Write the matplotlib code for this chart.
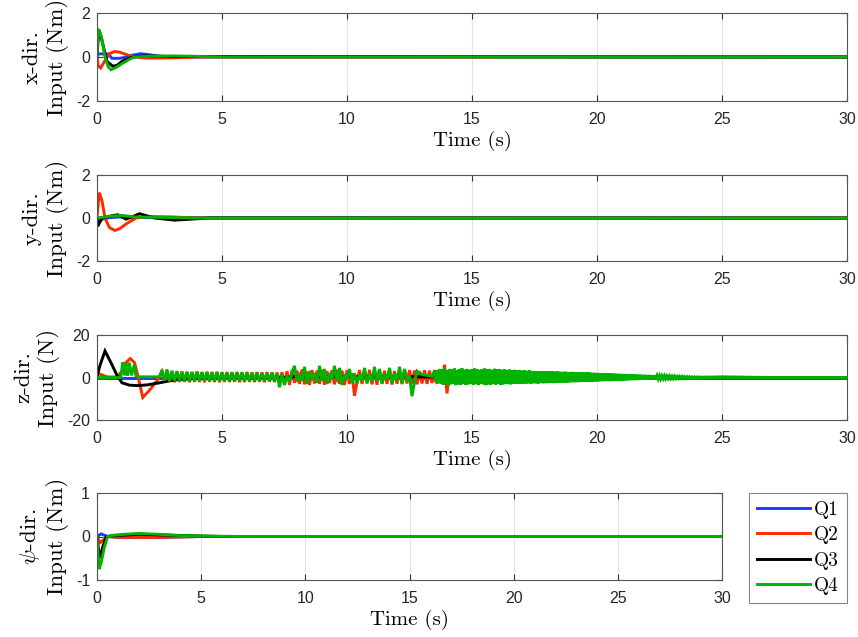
import numpy as np
import matplotlib
matplotlib.use("Agg")
import matplotlib.pyplot as plt
from matplotlib.lines import Line2D

plt.rcParams['mathtext.fontset'] = 'cm'
plt.rcParams['axes.unicode_minus'] = False

# ---------------- data ----------------
series_names = ["Q1", "Q2", "Q3", "Q4"]
series_colors = ["#1a3cff", "#ff2a00", "#000000", "#00b300"]

x_ticks = [0, 5, 10, 15, 20, 25, 30]
x_tick_labels = ["0", "5", "10", "15", "20", "25", "30"]

# x-direction input (Nm)
x_q1_t = [0, 0.45, 0.6, 0.9, 1.1, 1.4, 1.75, 2.1, 2.6, 3.5, 30]
x_q1_v = [0.14, 0.14, -0.06, -0.06, -0.02, 0.08, 0.15, 0.1, 0.02, 0, 0]
x_q2_t = [0, 0.05, 0.15, 0.3, 0.5, 0.7, 0.9, 1.2, 1.5, 2.0, 3.0, 4.0, 30]
x_q2_v = [0, -0.4, -0.5, -0.2, 0.15, 0.25, 0.22, 0.1, 0.0, -0.05, -0.04, 0, 0]
x_q3_t = [0, 0.05, 0.12, 0.25, 0.4, 0.63, 0.8, 1.0, 1.3, 1.6, 2.0, 3.0, 30]
x_q3_v = [0, 0.9, 1.1, 0.5, -0.2, -0.42, -0.38, -0.2, -0.05, 0.03, 0.05, 0.02, 0]
x_q4_t = [0, 0.05, 0.1, 0.2, 0.32, 0.45, 0.56, 0.8, 1.0, 1.3, 1.5, 2.0, 3.0, 4.0, 5.0, 30]
x_q4_v = [0, 1.24, 1.2, 0.8, 0.0, -0.45, -0.58, -0.45, -0.3, -0.1, 0.0, 0.03, 0.05, 0.03, 0, 0]

# y-direction input (Nm)
y_q1_t = [0, 0.05, 0.2, 0.5, 1.0, 2.0, 30]
y_q1_v = [0, -0.25, -0.05, 0.02, 0.05, 0.02, 0]
y_q2_t = [0, 0.09, 0.2, 0.32, 0.5, 0.72, 0.9, 1.2, 1.56, 2.0, 3.0, 4.0, 30]
y_q2_v = [0, 1.18, 0.8, 0.0, -0.45, -0.58, -0.5, -0.25, 0.0, 0.07, 0.05, 0, 0]
y_q3_t = [0, 0.03, 0.2, 0.5, 0.83, 1.16, 1.4, 1.7, 2.3, 3.1, 4.5, 30]
y_q3_v = [0, -0.38, 0.0, 0.08, 0.15, -0.05, 0.05, 0.2, 0.0, -0.1, 0, 0]
y_q4_t = [0, 0.5, 1.0, 1.5, 2.5, 4.0, 30]
y_q4_v = [0, 0.08, 0.12, 0.05, 0.03, 0, 0]

# z-direction input (N)
z_q1_t = [0, 30]
z_q1_v = [0, 0]
z_q3_t = [0, 0.1, 0.32, 0.6, 0.8, 1.0, 1.3, 1.6, 2.0, 2.5, 2.8, 3.2, 4, 5, 7.5, 8, 9, 10, 11, 12, 13, 14, 15, 20, 24, 25, 27, 30]
z_q3_v = [0, 5, 12.5, 6, 1, -2.5, -3.6, -3.8, -3.5, -2.5, -1.8, -1, -0.4, 0, 0, 0.5, 0.3, 0.5, 0.4, 0.5, 0.3, 0.2, 0, 0, 0, 0.2, 0, 0]

z_q2_early_t = [0, 0.2, 0.4, 0.8, 1.0, 1.15, 1.33, 1.5, 1.65, 1.83, 2.1, 2.4]
z_q2_early_v = [2, 1.2, 0.3, 0.2, 3, 7, 8.9, 7, 0, -9.4, -6, -1.5]
# samples every 0.1 s from 2.5 s
z_q2_osc_v = [
    0.5, 2.8, -2.2, 2.9, -2.0, 2.7, -2.2, 2.8, -2.1, 2.6,
    -2.0, 2.7, -2.2, 2.6, -2.0, 2.8, -2.1, 2.6, -2.2, 2.7,
    -2.0, 2.6, -2.1, 2.7, -2.2, 2.5, -2.0, 2.6, -2.1, 2.5,
    -2.0, 2.6, -2.2, 2.5, -2.1, 2.6, -2.0, 2.4, -2.1, 2.5,
    -2.0, 2.4, -2.2, 2.5, -2.0, 2.4, -2.1, 2.3, -2.0, 2.5,
    -3.0, 3.0, -3.5, 3.5, -2.5, 3.2, -3.0, 3.8, -3.2, 2.8,
    -3.5, 3.5, -2.8, 3.2, -3.0, 3.6, -3.4, 3.0, -2.6, 3.4,
    -3.2, 3.6, -3.0, 3.2, -3.5, 3.4, -3.0, 2.0, -8.6, -2.0,
    3.5, -3.0, 3.2, -2.8, 3.6, -3.2, 3.0, -3.4, 3.5, -2.8,
    3.2, -3.0, 3.6, -3.3, 3.0, -2.9, 3.4, -3.1, 3.2, -2.8,
    3.5, -3.0, 3.3, -3.2, 3.0, -2.8, 3.4, -3.0, 3.2, -2.6,
    3.5, -3.0, 3.2, -2.8, 6.0, -7.5, 3.0, -2.8, 3.2, -2.6,
    3.0, -2.8, 3.1, -2.7, 3.0, -2.6, 2.5, -2.4, 2.4, -2.3,
    2.2, -2.5, 2.3, -2.2, 2.0, -2.4, 2.2, -2.0, 2.0, -2.2,
    1.8, -1.8, 1.5, -1.5, 1.0, -0.8, 0.5, 0.0,
]

z_q4_early_t = [0, 0.95, 1.03, 1.1, 1.16, 1.22, 1.29, 1.38, 1.49, 1.56, 1.62, 2.4]
z_q4_early_v = [0, 0, 7.2, 1.0, 6.8, 0.8, 7.0, 1.0, 6.0, 0.5, 0.3, 0.3]
# samples every 0.1 s from 2.5 s to 13.4 s
z_q4_osc_v = [
    0.5, 3.5, -1.5, 3.8, -1.8, 3.2, -1.6, 3.0, -1.8, 2.8,
    -1.5, 2.6, -1.7, 2.5, -1.6, 2.6, -1.5, 2.4, -1.7, 2.5,
    -1.6, 2.3, -1.5, 2.4, -1.6, 2.3, -1.5, 2.2, -1.6, 2.4,
    -1.5, 2.2, -1.4, 2.3, -1.5, 2.2, -1.6, 2.1, -1.4, 2.2,
    -1.5, 2.0, -1.4, 2.1, -1.5, 2.2, -1.4, 2.0, -4.6, 1.5,
    -3.5, 1.0, -2.0, 2.0, 5.5, -2.0, 1.0, -1.5, 5.0, -3.0,
    3.0, -1.0, 2.0, -2.5, 5.5, -1.5, 4.0, -3.0, 2.0, -1.0,
    5.5, -2.0, 4.5, -3.5, 1.5, -1.0, 4.0, -2.5, 2.0, -3.0,
    1.5, -1.5, 4.5, -2.5, 1.0, -1.5, 5.0, -2.0, 4.0, -3.0,
    1.5, -1.0, 4.5, -2.5, 2.0, -2.0, 5.0, -2.5, 4.0, -1.0,
    1.0, -8.8, -2.0, 3.0, 2.0, 1.5, 1.2, 1.0, 0.8, 0.5,
]
# samples every 0.05 s from 13.5 s to 25 s
z_q4_late_v = [
    3.0, -2.0, 3.5, -2.5, 4.0, -2.8, 3.8, -3.5, 4.2, -3.0,
    3.6, -3.8, 4.0, -3.2, 3.8, -3.0, 4.2, -3.6, 3.5, -3.2,
    4.0, -3.5, 4.3, -3.0, 3.6, -3.4, 4.0, -3.2, 3.6, -3.0,
    3.8, -3.4, 4.2, -3.0, 4.0, -3.6, 3.5, -3.0, 3.9, -3.2,
    4.2, -3.6, 3.8, -3.2, 4.0, -3.4, 3.6, -3.0, 4.1, -3.3,
    3.8, -3.0, 4.0, -3.5, 3.6, -3.2, 3.8, -3.0, 3.5, -3.1,
    3.7, -3.2, 3.4, -2.9, 3.6, -3.0, 3.3, -2.8, 3.5, -3.0,
    3.2, -2.8, 3.4, -2.9, 3.1, -2.7, 3.3, -2.8, 3.0, -2.7,
    3.0, -2.7, 2.9, -2.8, 3.0, -2.6, 2.9, -2.7, 2.8, -2.6,
    2.9, -2.6, 2.8, -2.5, 2.9, -2.6, 2.7, -2.5, 2.8, -2.4,
    2.7, -2.4, 2.6, -2.4, 2.7, -2.3, 2.6, -2.3, 2.5, -2.2,
    2.6, -2.2, 2.5, -2.2, 2.4, -2.1, 2.5, -2.1, 2.4, -2.0,
    2.3, -2.0, 2.4, -2.0, 2.3, -1.9, 2.2, -1.9, 2.2, -1.8,
    2.1, -1.8, 2.1, -1.7, 2.0, -1.7, 2.0, -1.6, 1.9, -1.6,
    1.9, -1.6, 1.8, -1.5, 1.8, -1.5, 1.7, -1.4, 1.7, -1.4,
    1.6, -1.4, 1.6, -1.3, 1.5, -1.3, 1.5, -1.2, 1.4, -1.2,
    1.4, -1.1, 1.3, -1.1, 1.3, -1.0, 1.2, -1.0, 1.2, -0.9,
    1.1, -0.9, 1.1, -0.8, 1.0, -0.8, 1.0, -0.7, 0.9, -0.7,
    0.9, -0.7, 0.8, -0.6, 0.8, -0.6, 0.7, -0.5, 0.7, -0.5,
    0.6, -0.5, 0.6, -0.4, 0.5, -0.4, 0.5, -0.3, 0.5, -0.3,
    0.4, -0.3, 0.4, -0.3, 0.35, -0.25, 0.3, -0.2, 0.3, -0.2,
    0.25, -0.2, 0.25, -0.15, 0.2, -0.15, 0.2, -0.1, 0.15, -0.1,
    0.15, -0.1, 0.1, -0.05, 0.1, -0.05, 0.05, 0.0, 0.05, 0.0,
]

# psi-direction input (Nm)
p_q1_t = [0, 0.2, 0.5, 1.0, 3.0, 5.0, 30]
p_q1_v = [0, 0.06, 0.0, -0.02, -0.02, 0, 0]
p_q2_t = [0, 0.15, 0.5, 1.0, 3.0, 5.0, 30]
p_q2_v = [0, -0.14, 0.0, -0.02, -0.02, 0, 0]
p_q3_t = [0, 0.12, 0.3, 0.45, 0.8, 2.0, 3.5, 6.0, 30]
p_q3_v = [0, -0.5, -0.2, 0.0, 0.02, 0.05, 0.03, 0, 0]
p_q4_t = [0, 0.1, 0.2, 0.35, 0.51, 0.8, 1.3, 2.0, 3.0, 4.0, 5.0, 7.0, 30]
p_q4_v = [0, -0.75, -0.6, -0.25, 0.0, 0.03, 0.05, 0.07, 0.05, 0.02, 0.01, 0, 0]


def build_series(early_t, early_v, segments):
    """segments: list of (start_time, step, values) sampled uniformly."""
    ts = [np.asarray(early_t, float)]
    vs = [np.asarray(early_v, float)]
    for start, step, vals in segments:
        ts.append(start + step * np.arange(len(vals)))
        vs.append(np.asarray(vals, float))
    ts.append(np.array([30.0]))
    vs.append(np.array([0.0]))
    return np.concatenate(ts), np.concatenate(vs)


z_q2_t, z_q2_v = build_series(z_q2_early_t, z_q2_early_v, [(2.5, 0.1, z_q2_osc_v)])
z_q4_t, z_q4_v = build_series(z_q4_early_t, z_q4_early_v,
                              [(2.5, 0.1, z_q4_osc_v), (13.5, 0.05, z_q4_late_v)])

panels = [
    dict(series=[(x_q1_t, x_q1_v), (x_q2_t, x_q2_v), (x_q3_t, x_q3_v), (x_q4_t, x_q4_v)],
         ylim=(-2, 2), yticks=[-2, 0, 2], ylabels=["-2", "0", "2"],
         label="x-dir.\nInput (Nm)"),
    dict(series=[(y_q1_t, y_q1_v), (y_q2_t, y_q2_v), (y_q3_t, y_q3_v), (y_q4_t, y_q4_v)],
         ylim=(-2, 2), yticks=[-2, 0, 2], ylabels=["-2", "0", "2"],
         label="y-dir.\nInput (Nm)"),
    dict(series=[(z_q1_t, z_q1_v), (z_q2_t, z_q2_v), (z_q3_t, z_q3_v), (z_q4_t, z_q4_v)],
         ylim=(-20, 20), yticks=[-20, 0, 20], ylabels=["-20", "0", "20"],
         label="z-dir.\nInput (N)"),
    dict(series=[(p_q1_t, p_q1_v), (p_q2_t, p_q2_v), (p_q3_t, p_q3_v), (p_q4_t, p_q4_v)],
         ylim=(-1, 1), yticks=[-1, 0, 1], ylabels=["-1", "0", "1"],
         label="$\\psi$-dir.\nInput (Nm)"),
]

# ---------------- layout ----------------
W, H = 858, 637
fig = plt.figure(figsize=(W / 100, H / 100), dpi=100)

boxes = [  # left, top, right, bottom in pixels
    (97, 13, 847, 101),
    (97, 175, 847, 261),
    (97, 335, 847, 420),
    (97, 493, 722, 580),
]

serif = 'cmr10'
tick_font = 'Liberation Sans'
edge = '#555555'
lw = 2.1

for p, (l, t, r, b) in zip(panels, boxes):
    ax = fig.add_axes([l / W, 1 - b / H, (r - l) / W, (b - t) / H])
    for (tt, vv), c in zip(p['series'], series_colors):
        ax.plot(tt, vv, color=c, lw=lw, solid_joinstyle='miter')
    ax.set_xlim(0, 30)
    ax.set_ylim(*p['ylim'])
    ax.set_xticks(x_ticks)
    ax.set_xticklabels(x_tick_labels, fontfamily=tick_font, fontsize=11.5, color='#262626')
    ax.set_yticks(p['yticks'])
    ax.set_yticklabels(p['ylabels'], fontfamily=tick_font, fontsize=11.5, color='#262626')
    ax.grid(axis='x', color='#e3e3e3', lw=0.8)
    ax.set_axisbelow(True)
    ax.tick_params(direction='in', top=True, right=True, length=4, width=0.8,
                   color='#333333')
    ax.tick_params(axis='x', pad=8)
    ax.tick_params(axis='y', pad=5)
    for s in ax.spines.values():
        s.set_color(edge)
        s.set_linewidth(0.8)
    ax.set_xlabel("Time (s)", fontfamily=serif, fontsize=15, labelpad=3)
    ax.set_ylabel(p['label'], fontfamily=serif, fontsize=16.5, labelpad=5,
                  linespacing=1.25)

handles = [Line2D([], [], color=c, lw=lw) for c in series_colors]
leg = fig.legend(handles, series_names, loc='upper left',
                 bbox_to_anchor=(749 / W, 1 - 493 / H),
                 prop={'family': serif, 'size': 14},
                 frameon=True, fancybox=False, handlelength=2.75,
                 labelspacing=0.38, borderpad=0.4, handletextpad=0.2,
                 borderaxespad=0)
leg.get_frame().set_edgecolor('#666666')
leg.get_frame().set_linewidth(0.8)

fig.savefig("out.png", dpi=100)
